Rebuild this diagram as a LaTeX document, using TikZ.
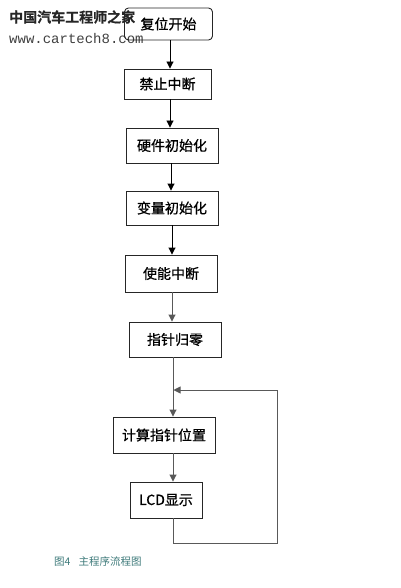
\documentclass[tikz,border=0pt]{standalone}
\usepackage{fontspec}
\newfontfamily\cjk{Noto Sans CJK SC}
\newfontfamily\cjkm[FakeBold=0.7]{Noto Sans CJK SC}
\newfontfamily\cjkb[FakeBold=0.6]{Noto Sans CJK SC Bold}
\setmonofont{Liberation Mono}
\usetikzlibrary{arrows.meta}
\definecolor{capcol}{RGB}{62,122,122}
\tikzset{
  box/.style={draw=black!85, line width=0.9pt, inner sep=0pt, font=\cjkm\fontsize{14}{14}\selectfont, text=black},
  flow/.style={draw=black, line width=0.9pt, -{Triangle[length=7pt,width=7pt]}},
  flowg/.style={draw=black!65, line width=0.9pt, -{Triangle[length=7pt,width=7pt]}},
  line/.style={draw=black!65, line width=0.9pt},
}
\begin{document}
\begin{tikzpicture}[x=1pt,y=-1pt]
\useasboundingbox (0,0) rectangle (400,588);
% watermark
\node[anchor=west, inner sep=0pt, font=\cjkb\fontsize{14}{14}\selectfont, text=black!85] (wm1) at (9,17) {中国汽车工程师之家};
\node[anchor=west, inner sep=0pt, font=\ttfamily\fontsize{14}{14}\selectfont, text=black!75] (wm2) at (9,38) {www.cartech8.com};
% boxes
\node[box, rounded corners=4pt, minimum width=88pt, minimum height=32pt] (b1) at (168.5,24) {复位开始};
\node[box, minimum width=87pt, minimum height=30pt] (b2) at (167.5,84) {禁止中断};
\node[box, minimum width=92pt, minimum height=35pt] (b3) at (172,145.5) {硬件初始化};
\node[box, minimum width=92pt, minimum height=34pt] (b4) at (172,208) {变量初始化};
\node[box, minimum width=92pt, minimum height=37pt] (b5) at (171,273.5) {使能中断};
\node[box, minimum width=92pt, minimum height=35pt] (b6) at (175,339.5) {指针归零};
\node[box, minimum width=102pt, minimum height=36pt] (b7) at (164,435) {计算指针位置};
\node[box, minimum width=72pt, minimum height=36pt] (b8) at (166,500) {LCD显示};
% connectors
\draw[flow] (b1.south -| 170,0) -- (b2.north -| 170,0);
\draw[flow] (b2.south -| 170,0) -- (b3.north -| 170,0);
\draw[flow] (b3.south -| 171,0) -- (b4.north -| 171,0);
\draw[flow] (b4.south -| 172,0) -- (b5.north -| 172,0);
\draw[flowg] (b5.south -| 172,0) -- (b6.north -| 172,0);
\draw[flowg] (b6.south -| 173,0) -- (b7.north -| 173,0);
\draw[flowg] (b7.south -| 173,0) -- (b8.north -| 173,0);
\coordinate (c1) at (173,543);
\coordinate (c2) at (277,543);
\coordinate (c3) at (277,390);
\coordinate (c4) at (173.5,390);
\draw[line] (b8.south -| 173,0) -- (c1) -- (c2) -- (c3);
\draw[flowg] (c3) -- (c4);
% caption
\node[anchor=west, inner sep=0pt, font=\cjk\fontsize{10.5}{10.5}\selectfont, text=capcol] (cap) at (54,561) {图4\hspace{8pt}主程序流程图};
\end{tikzpicture}
\end{document}
